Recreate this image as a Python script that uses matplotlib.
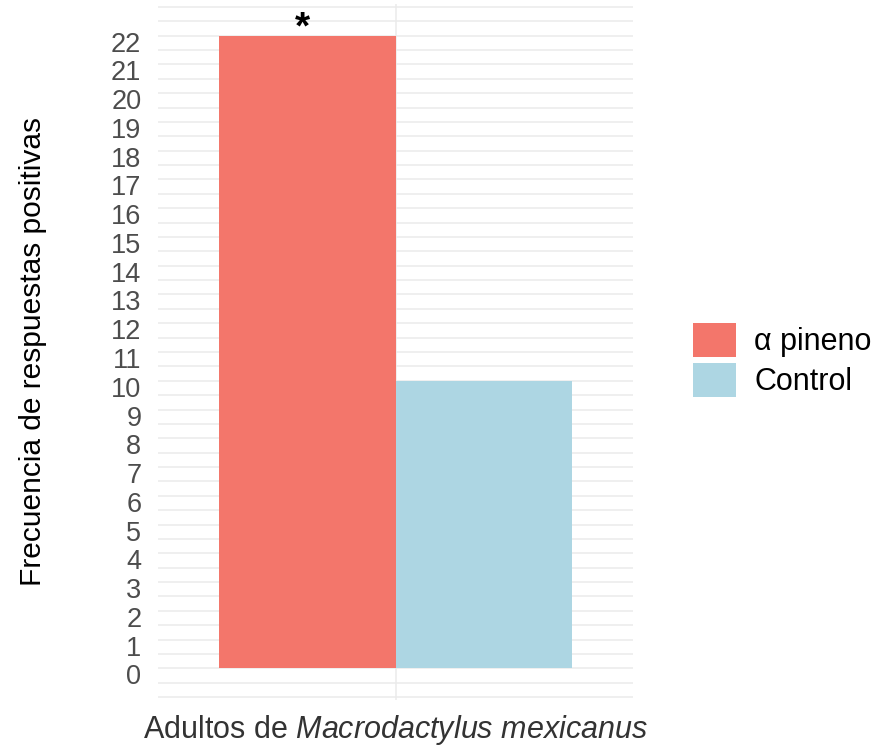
import numpy as np
import matplotlib as mpl
mpl.use('Agg')
import matplotlib.pyplot as plt
import matplotlib.transforms as mtransforms
from matplotlib.patches import Patch

plt.rcParams['font.family'] = ['Liberation Sans', 'DejaVu Sans']
plt.rcParams['mathtext.fontset'] = 'custom'
plt.rcParams['mathtext.rm'] = 'Liberation Sans'
plt.rcParams['mathtext.it'] = 'Liberation Sans:italic'

#~~~~~~~~~~ data ~~~~~~~~~~~#
groups = ['\u03b1 pineno', 'Control']
values = [22, 10]
colors = ['#F3766B', '#ADD6E3']
signif = ['*', '']
yticks = list(range(0, 23))

fig = plt.figure(figsize=(8.86, 7.48), dpi=100)
ax = fig.add_axes([158/886, 1 - 700/748, (633 - 158)/886, 696/748])

width = 0.45
offsets = [-width/2, width/2]
for g, v, c, o, s in zip(groups, values, colors, offsets, signif):
    ax.bar(1 + o, v, width=width, color=c, zorder=2)
    if s:
        ax.annotate(s, (1 + o, v), xytext=(-3, -8), textcoords='offset points',
                    ha='center', va='bottom', fontsize=28, fontweight='bold', zorder=3)

ax.set_xlim(1 - 0.604, 1 + 0.604)
ax.set_ylim(-1.1, 23.1)
ax.set_xticks([1])
ax.set_xticklabels([''])
ax.set_yticks(yticks)
ax.set_yticks(np.arange(-1, 23.5, 0.5), minor=True)
ax.grid(True, which='both', axis='y', color='#EBEBEB', linewidth=1.1, zorder=0)
ax.grid(True, which='major', axis='x', color='#EBEBEB', linewidth=1.1, zorder=0)
ax.tick_params(axis='both', which='both', length=0)
ax.tick_params(axis='y', labelsize=19.5, labelcolor='#4D4D4D', pad=12)
for lab in ax.get_yticklabels():
    lab.set_transform(lab.get_transform() +
                      mtransforms.ScaledTranslation(0, -6/100, fig.dpi_scale_trans))
for sp in ax.spines.values():
    sp.set_visible(False)
ax.set_axisbelow(True)

ax.set_ylabel('Frecuencia de respuestas positivas', fontsize=21.5, labelpad=46)
ax.set_xlabel(r'Adultos de $\it{Macrodactylus\ mexicanus}$', fontsize=22,
              color='#333333', labelpad=6)

handles = [Patch(facecolor=c, edgecolor='none') for c in colors]
fig.legend(handles, groups, loc='center left', bbox_to_anchor=(693/886, 1 - 360/748),
           frameon=False, fontsize=22, handlelength=1.4, handleheight=1.34,
           handletextpad=0.6, labelspacing=0.2, borderaxespad=0, borderpad=0)

fig.savefig('out.png', dpi=100)
